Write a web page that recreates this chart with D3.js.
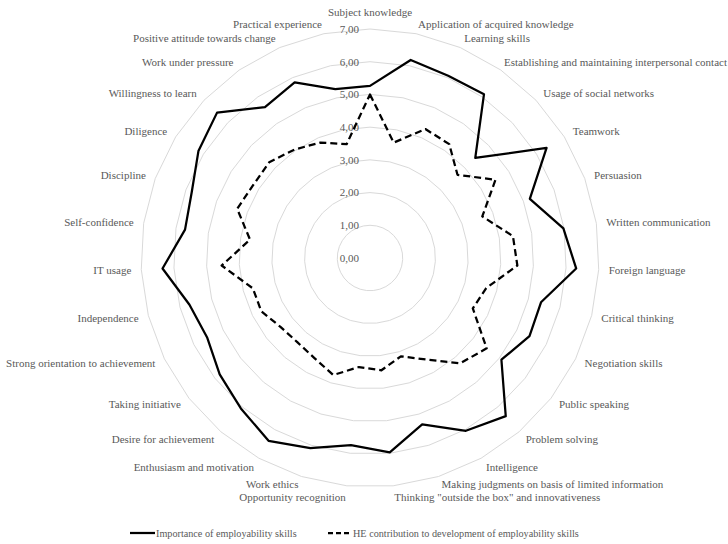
<!DOCTYPE html>
<html>
<head>
<meta charset="utf-8">
<script src="https://cdn.jsdelivr.net/npm/d3@7"></script>
<style>
  html, body { margin: 0; padding: 0; background: #fff; }
  svg { display: block; font-family: "Liberation Serif", "Times New Roman", serif; }
</style>
</head>
<body>
<svg id="chart" width="728" height="544"></svg>
<script>
const categories = [
  "Subject knowledge",
  "Application of acquired knowledge",
  "Learning skills",
  "Establishing and maintaining interpersonal contact",
  "Usage of social networks",
  "Teamwork",
  "Persuasion",
  "Written communication",
  "Foreign language",
  "Critical thinking",
  "Negotiation skills",
  "Public speaking",
  "Problem solving",
  "Intelligence",
  "Making judgments on basis of limited information",
  "Thinking \"outside the box\" and innovativeness",
  "Opportunity recognition",
  "Work ethics",
  "Enthusiasm and motivation",
  "Desire for achievement",
  "Taking initiative",
  "Strong orientation to achievement",
  "Independence",
  "IT usage",
  "Self-confidence",
  "Discipline",
  "Diligence",
  "Willingness to learn",
  "Work under pressure",
  "Positive attitude towards change",
  "Practical experience"
];

const importance = [
  5.26, 6.18, 6.06, 6.10, 4.44, 6.36, 5.21, 5.98, 6.31, 5.40,
  5.43, 5.08, 6.37, 6.04, 5.33, 5.97, 5.75, 6.09, 6.39, 6.06,
  5.81, 5.54, 5.70, 6.35, 5.72, 5.81, 6.18, 6.45, 5.62, 5.84,
  5.27
];

const heContribution = [
  5.00, 3.60, 4.29, 4.24, 3.69, 4.52, 3.66, 4.42, 4.51, 3.67,
  3.50, 4.51, 4.24, 3.55, 3.15, 3.45, 3.35, 3.75, 3.50, 3.40,
  3.45, 3.70, 3.70, 4.54, 3.71, 4.33, 4.21, 4.25, 4.04, 3.84,
  3.55
];

const tickValues = [0, 1, 2, 3, 4, 5, 6, 7];
const tickLabels = ["0,00", "1,00", "2,00", "3,00", "4,00", "5,00", "6,00", "7,00"];

const seriesNames = ["Importance of employability skills", "HE contribution to development of employability skills"];

const W = 728;
const svg = d3.select("#chart");
const cx = 370, cy = 258, R = 229;
const textColor = "#595959";

const r = d3.scaleLinear().domain([0, 7]).range([0, R]);
const angle = d3.scaleLinear().domain([0, categories.length]).range([0, 2 * Math.PI]);

const g = svg.append("g").attr("transform", `translate(${cx},${cy})`);

// grid polygons
const gridLine = d3.lineRadial()
  .angle((d, i) => angle(i))
  .radius(d => r(d))
  .curve(d3.curveLinearClosed);

tickValues.filter(v => v > 0).forEach(v => {
  g.append("path")
    .attr("d", gridLine(categories.map(() => v)))
    .attr("fill", "none")
    .attr("stroke", "#d9d9d9")
    .attr("stroke-width", 1);
});

// tick labels
g.selectAll("text.tick")
  .data(tickValues)
  .join("text")
  .attr("class", "tick")
  .attr("x", -11)
  .attr("y", d => -r(d))
  .attr("dy", "0.35em")
  .attr("text-anchor", "end")
  .attr("font-size", 11)
  .attr("fill", textColor)
  .text((d, i) => tickLabels[i]);

// series
const seriesLine = d3.lineRadial()
  .angle((d, i) => angle(i))
  .radius(d => r(d))
  .curve(d3.curveLinearClosed);

g.append("path")
  .attr("d", seriesLine(heContribution))
  .attr("fill", "none")
  .attr("stroke", "#000")
  .attr("stroke-width", 2.25)
  .attr("stroke-dasharray", "7,4")
  .attr("stroke-linejoin", "round");

g.append("path")
  .attr("d", seriesLine(importance))
  .attr("fill", "none")
  .attr("stroke", "#000")
  .attr("stroke-width", 2.25)
  .attr("stroke-linejoin", "round");

// category labels
const labelR = R + 10;
// small vertical nudges so the tightly packed bottom labels don't collide
const nudgeY = { 14: -2, 15: 1.5, 16: 1.5, 17: -2 };
g.selectAll("text.cat")
  .data(categories)
  .join("text")
  .attr("class", "cat")
  .attr("font-size", 11)
  .attr("fill", textColor)
  .each(function(d, i) {
    const a = angle(i);
    let x = labelR * Math.sin(a);
    const y = -labelR * Math.cos(a) + (nudgeY[i] || 0);
    const s = Math.sin(a);
    let anchor = "middle";
    if (s > 0.01) anchor = "start";
    else if (s < -0.01) anchor = "end";
    const el = d3.select(this)
      .attr("x", x)
      .attr("y", y)
      .attr("text-anchor", anchor)
      .attr("dy", anchor === "middle" ? "-0.25em" : "0.35em")
      .text(d);
    // keep labels inside the canvas
    const w = this.getComputedTextLength();
    if (anchor === "start" && cx + x + w > W - 1) {
      x = W - 1 - cx - w;
      el.attr("x", x);
    }
    if (anchor === "end" && cx + x - w < 1) {
      x = 1 - cx + w;
      el.attr("x", x);
    }
  });

// legend
const legend = svg.append("g").attr("transform", "translate(0,533)");
legend.append("line")
  .attr("x1", 130).attr("x2", 155).attr("y1", 0).attr("y2", 0)
  .attr("stroke", "#000").attr("stroke-width", 2.25);
legend.append("text")
  .attr("x", 156).attr("y", 0).attr("dy", "0.35em")
  .attr("font-size", 10.2).attr("fill", textColor)
  .text(seriesNames[0]);
legend.append("line")
  .attr("x1", 328).attr("x2", 351).attr("y1", 0).attr("y2", 0)
  .attr("stroke", "#000").attr("stroke-width", 2.25)
  .attr("stroke-dasharray", "5,3");
legend.append("text")
  .attr("x", 353).attr("y", 0).attr("dy", "0.35em")
  .attr("font-size", 10.2).attr("fill", textColor)
  .text(seriesNames[1]);
</script>
</body>
</html>
